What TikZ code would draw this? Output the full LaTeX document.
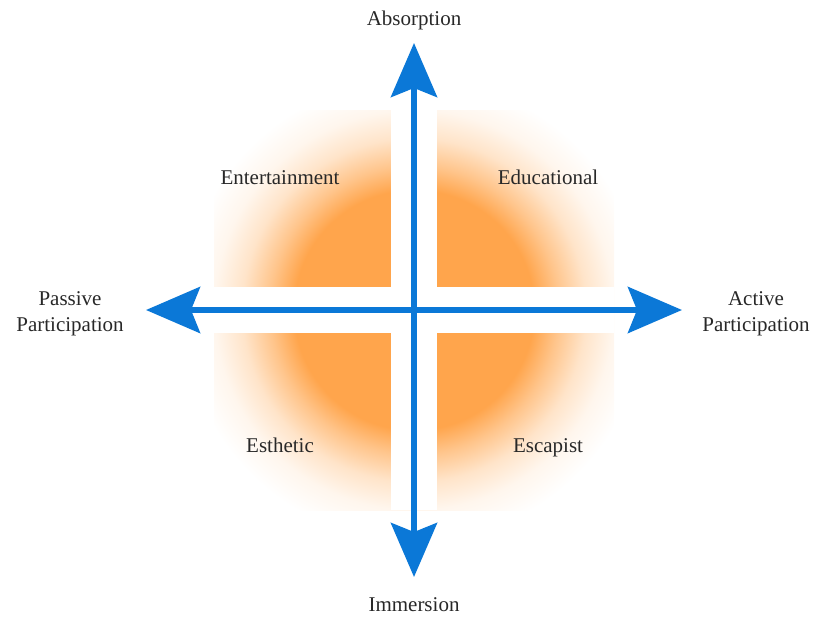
\documentclass[tikz,border=0pt]{standalone}
\usepackage{fontspec}
\setmainfont{Liberation Serif}
\usetikzlibrary{arrows.meta}
\definecolor{glow}{RGB}{255,165,76}
\definecolor{axisblue}{RGB}{11,120,215}
\definecolor{labelgray}{RGB}{40,40,40}
\pgfdeclareradialshading{glowshade}{\pgfpoint{0bp}{0bp}}{color(0bp)=(glow); color(15bp)=(glow); color(18bp)=(glow!65); color(21.5bp)=(glow!30); color(25bp)=(glow!10); color(29bp)=(white); color(50bp)=(white)}
\begin{document}
\begin{tikzpicture}[x = 1pt, y = -1pt,
    axis/.style = {line width = 6pt, axisblue, {Stealth[length = 54pt, width = 46pt, inset = 9pt]}-{Stealth[length = 54pt, width = 46pt, inset = 9pt]}},
    lbl/.style = {text = labelgray, font = \fontsize{21}{26}\selectfont, align = center}]
    \useasboundingbox (0,0) rectangle (814,616);
    % glow behind the quadrants
    \shade[shading = glowshade] (214,110) rectangle (614,510);
    \fill[white] (391,110) rectangle (437,510);
    \fill[white] (214,287) rectangle (614,333);
    % axes
    \coordinate (west) at (146,310);
    \coordinate (east) at (682,310);
    \coordinate (north) at (414,43);
    \coordinate (south) at (414,577);
    \draw[axis] (west) -- (east);
    \draw[axis] (north) -- (south);
    % axis labels
    \node[lbl, anchor = base] (absorption) at (414,25.5) {Absorption};
    \node[lbl, anchor = base] (immersion) at (414,611.5) {Immersion};
    \node[lbl] (passive) at (70,314) {Passive\\Participation};
    \node[lbl] (active) at (756,314) {Active\\Participation};
    % quadrant labels
    \node[lbl, anchor = base] (entertainment) at (280,184) {Entertainment};
    \node[lbl, anchor = base] (educational) at (548,184) {Educational};
    \node[lbl, anchor = base] (esthetic) at (280,452) {Esthetic};
    \node[lbl, anchor = base] (escapist) at (548,452) {Escapist};
\end{tikzpicture}
\end{document}
